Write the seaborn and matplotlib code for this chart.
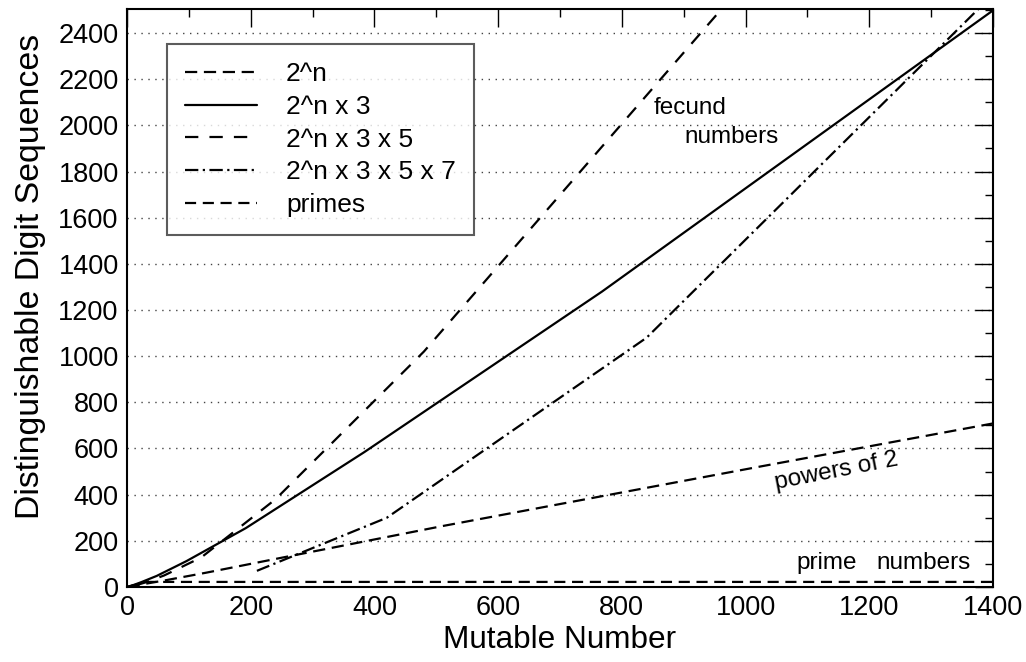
import numpy as np
import pandas as pd
import matplotlib
matplotlib.use("Agg")
import matplotlib.pyplot as plt
import seaborn as sns
from matplotlib.ticker import MultipleLocator

# ---- data ----
pow2_x = [1, 2, 4, 8, 16, 32, 64, 128, 256, 512, 1024, 2048]
pow2_y = [1, 2, 3, 5, 8, 15, 30, 62, 130, 265, 522, 1030]

s3_x = [3, 6, 12, 24, 48, 96, 192, 384, 768, 1536]
s3_y = [2, 5, 10, 22, 48, 112, 255, 585, 1280, 2760]

s35_x = [15, 30, 60, 120, 240, 480, 960, 1920]
s35_y = [8, 20, 50, 128, 380, 1020, 2500, 5400]

s357_x = [210, 420, 840, 1680]
s357_y = [70, 300, 1080, 3310]

primes_x = [2, 30, 1400]
primes_y = [1, 22, 22]

labels = ["2^n", "2^n x 3", "2^n x 3 x 5", "2^n x 3 x 5 x 7", "primes"]
xs = [pow2_x, s3_x, s35_x, s357_x, primes_x]
ys = [pow2_y, s3_y, s35_y, s357_y, primes_y]

frames = []
for lab, x, y in zip(labels, xs, ys):
    frames.append(pd.DataFrame({"x": x, "y": y, "series": lab}))
df = pd.concat(frames, ignore_index=True)

dash_map = {
    "2^n": (5.5, 3.0),
    "2^n x 3": "",
    "2^n x 3 x 5": (6.0, 5.0),
    "2^n x 3 x 5 x 7": (6.0, 2.0, 1.0, 2.0),
    "primes": (5.0, 3.0),
}

sns.set_style("white")
plt.rcParams["font.family"] = ["Liberation Sans", "DejaVu Sans"]
plt.rcParams["text.color"] = "black"
plt.rcParams["axes.labelcolor"] = "black"
plt.rcParams["xtick.color"] = "black"
plt.rcParams["ytick.color"] = "black"

fig = plt.figure(figsize=(10.26, 6.62), dpi=100)
ax = fig.add_axes([0.1238, 0.1133, 0.8440, 0.8731])

sns.lineplot(data=df, x="x", y="y", style="series", style_order=labels,
             dashes=dash_map, color="black", linewidth=1.6,
             estimator=None, sort=False, ax=ax, legend=False)

ax.set_xlim(0, 1400)
ax.set_ylim(0, 2504)

ax.xaxis.set_major_locator(MultipleLocator(200))
ax.xaxis.set_minor_locator(MultipleLocator(100))
ax.yaxis.set_major_locator(MultipleLocator(200))
ax.yaxis.set_minor_locator(MultipleLocator(100))

ax.tick_params(which="major", direction="in", length=13, width=1.0,
               top=True, right=True, labelsize=19.5, color="black", pad=6)
ax.tick_params(which="minor", direction="in", length=6, width=1.0,
               top=True, right=True, color="black")

ax.yaxis.grid(True, which="major", linestyle=(0, (1, 4)), color="#444444",
              linewidth=1.0)
ax.xaxis.grid(False)

for sp in ax.spines.values():
    sp.set_color("black")
    sp.set_linewidth(1.5)

ax.set_xlabel("Mutable Number", fontsize=22.7, labelpad=3)
ax.set_ylabel("Distinguishable Digit Sequences", fontsize=24.4)
ax.yaxis.set_label_coords(-0.093, 0.538)

# legend
handles = ax.get_lines()[:5]
leg = ax.legend(handles, labels, loc="upper left",
                bbox_to_anchor=(0.046, 0.939), fontsize=19,
                frameon=True, fancybox=False, edgecolor="#333333",
                handlelength=2.73, handletextpad=1.1, labelspacing=0.33,
                borderpad=0.68, borderaxespad=0.0)
leg.get_frame().set_linewidth(1.5)

# annotations
ax.text(910, 2075, "fecund", fontsize=17.5, ha="center", va="center")
ax.text(977, 1950, "numbers", fontsize=17.5, ha="center", va="center")
ax.text(1147, 503, "powers of 2", fontsize=17.5, ha="center", va="center",
        rotation=11, rotation_mode="anchor")
ax.text(1132, 104, "prime", fontsize=17.5, ha="center", va="center")
ax.text(1287, 104, "numbers", fontsize=17.5, ha="center", va="center")

fig.savefig("out.png", dpi=100)
